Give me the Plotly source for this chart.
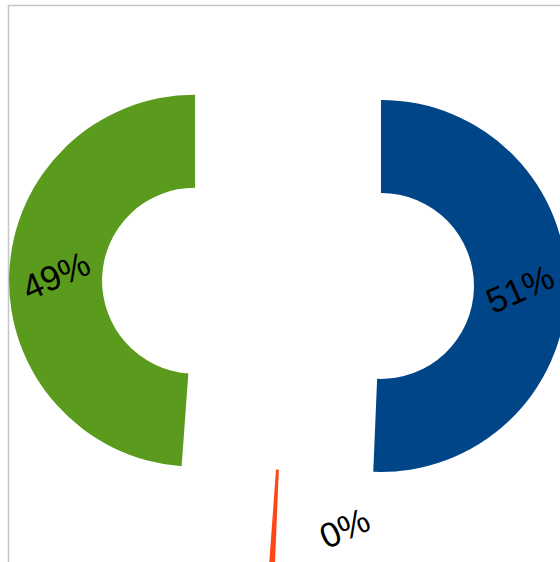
import math
import plotly.graph_objects as go

# ---- data ----
categories = ["Series B", "Series C", "Series A"]
values = [50.66, 0.49, 48.85]
colors = ["#004587", "#FF4716", "#5A9A1C"]

# ---- layout geometry ----
W, H = 600, 600          # figure larger than the window; only the top-left part is seen
CX, CY = 288, 284        # pie centre in px
R = 186                  # outer radius in px
PULL = 0.5
HOLE = 0.5
half = R * (1 + PULL)
dom_x = [(CX - half) / W, (CX + half) / W]
dom_y = [1 - (CY + half) / H, 1 - (CY - half) / H]

fig = go.Figure(go.Pie(
    labels=categories,
    values=values,
    sort=False,
    direction="clockwise",
    rotation=0,
    hole=HOLE,
    pull=[PULL] * len(values),
    marker=dict(colors=colors, line=dict(width=0)),
    textinfo="none",
    showlegend=False,
    domain=dict(x=dom_x, y=dom_y),
))

# labels, rotated like the reference, positioned from the slice angles
total = sum(values)
cum = 0.0
label_shift = {1: (70, 11)}  # small slice label sits off to the side
annotations = []
for i, v in enumerate(values):
    a0 = cum / total * 360
    cum += v
    a1 = cum / total * 360
    th = math.radians((a0 + a1) / 2)
    ux, uy = math.sin(th), -math.cos(th)
    r_lab = R * (1 + HOLE) / 2
    px = CX + PULL * R * ux + r_lab * ux
    py = CY + PULL * R * uy + r_lab * uy
    dx, dy = label_shift.get(i, (0, 0))
    px += dx
    py += dy
    annotations.append(dict(
        x=px / W, y=1 - py / H, xref="paper", yref="paper",
        text=f"{100 * v / total:.0f}%", showarrow=False, textangle=-24,
        xanchor="center", yanchor="middle",
        font=dict(family="Liberation Sans, Arial, sans-serif", size=35, color="#000000"),
    ))

fig.update_layout(
    width=W, height=H,
    margin=dict(l=0, r=0, t=0, b=0),
    paper_bgcolor="#FFFFFF",
    plot_bgcolor="#FFFFFF",
    annotations=annotations,
    shapes=[dict(type="rect", xref="paper", yref="paper",
                 x0=8.5 / W, y0=1 - 5.5 / H, x1=1.5, y1=-0.5,
                 line=dict(color="#C6C6C6", width=1.5), fillcolor="rgba(0,0,0,0)",
                 layer="below")],
)

fig.write_html(
    "out.html",
    post_script="document.documentElement.style.overflow='hidden';document.body.style.overflow='hidden';document.body.style.margin='0';",
)
